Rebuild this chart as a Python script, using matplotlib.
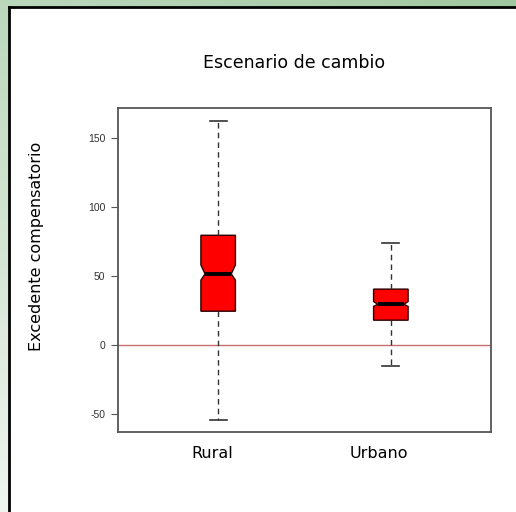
import numpy as np
import matplotlib
matplotlib.use('Agg')
import matplotlib.pyplot as plt
from matplotlib.lines import Line2D
from matplotlib.patches import Rectangle

# box statistics
groups = ['Rural', 'Urbano']
whislo = [-54, -15]
q1 = [24.5, 18]
med = [51.5, 29.5]
q3 = [79.5, 40.5]
whishi = [162, 74]
cilo = [47, 28]
cihi = [58, 31.5]
yticks = [-50, 0, 50, 100, 150]

W, H = 516, 512
fig = plt.figure(figsize=(W / 100, H / 100), dpi=100)

# ── background: green gradient frame + white panel ───────────────────────────
bg = fig.add_axes([0, 0, 1, 1])
yy, xx = np.mgrid[0:1:200j, 0:1:200j]
t = np.clip(0.65 * yy + 0.35 * xx, 0, 1)
dark = np.array([160, 200, 160]) / 255
light = np.array([240, 245, 240]) / 255
grad = light[None, None, :] * (1 - t[..., None]) + dark[None, None, :] * t[..., None]
bg.imshow(grad, extent=[0, 1, 0, 1], origin='lower', aspect='auto')
bg.set_xlim(0, 1)
bg.set_ylim(0, 1)
bg.axis('off')
x0, y0 = 9 / W, 1 - 7 / H
bg.add_patch(Rectangle((x0, 0), 1 - x0, y0, facecolor='white', edgecolor='none'))
bg.add_line(Line2D([x0, x0], [0, y0], color='black', lw=2))
bg.add_line(Line2D([x0, 1], [y0, y0], color='black', lw=2))

# ── boxplot ───────────────────────────────────────────────────────────────────
ax = fig.add_axes([118 / W, 1 - 432 / H, (491 - 118) / W, (432 - 108) / H])
stats = []
for i, g in enumerate(groups):
    stats.append({'label': g, 'whislo': whislo[i], 'q1': q1[i], 'med': med[i],
                  'q3': q3[i], 'whishi': whishi[i], 'cilo': cilo[i], 'cihi': cihi[i],
                  'fliers': []})
pos = [1, 2]
width = 0.2
bp = ax.bxp(stats, positions=pos, widths=width, shownotches=True, patch_artist=True,
            boxprops=dict(facecolor='#ff0000', edgecolor='#2a0000', lw=1),
            whiskerprops=dict(color='#333333', lw=1, linestyle=(0, (4, 3))),
            capprops=dict(color='#333333', lw=1.2),
            medianprops=dict(color='black', lw=2.8))

# shallower notch like the original
for p, box, m, line in zip(pos, bp['boxes'], med, bp['medians']):
    v = box.get_path().vertices
    at_med = np.isclose(v[:, 1], m)
    v[at_med, 0] = np.where(v[at_med, 0] < p, p - width * 0.38, p + width * 0.38)
    line.set_xdata([p - width * 0.38, p + width * 0.38])

ax.axhline(0, color='#c87070', lw=1, zorder=1)

ax.set_xlim(0.42, 2.58)
ax.set_ylim(-63, 171.7)
ax.set_yticks(yticks)
ax.set_yticklabels([str(v) for v in yticks], fontsize=7.5, color='#333333',
                   family='Liberation Sans')
ax.tick_params(axis='y', length=5, width=0.8, color='#555555', pad=4)
ax.set_xticks([])
for s in ax.spines.values():
    s.set_color('#555555')
    s.set_linewidth(1.3)

# category labels (slightly left of the boxes as in the original)
label_x = [212, 379]
for g, lx in zip(groups, label_x):
    fig.text(lx / W, 1 - 453 / H, g, ha='center', va='center', fontsize=11.5)

fig.text(294 / W, 1 - 63 / H, 'Escenario de cambio', ha='center', va='center', fontsize=12.5)
fig.text(37 / W, 1 - 246 / H, 'Excedente compensatorio', ha='center', va='center',
         rotation=90, fontsize=11.5)

fig.savefig('out.png', dpi=100)
